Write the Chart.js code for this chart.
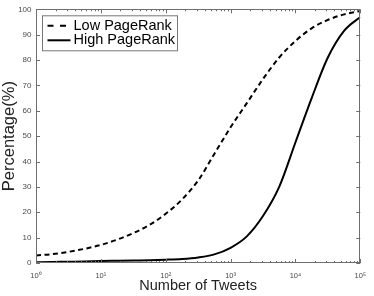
<!DOCTYPE html>
<html>
<head>
<meta charset="utf-8">
<script src="https://cdn.jsdelivr.net/npm/chart.js@4/dist/chart.umd.min.js"></script>
<style>
  html, body { margin: 0; padding: 0; background: #fff; }
  canvas { display: block; }
</style>
</head>
<body>
<canvas id="myChart" width="374" height="296"></canvas>
<script>
// number of tweets (x, log scale)
var tweets = [1, 1.78, 3.16, 5.62, 10, 17.8, 31.6, 56.2, 100, 178, 316, 562,
  1000, 1780, 3160, 5620, 10000, 17800, 31600, 56200, 100000];
// percentage of users (y)
var lowPageRank = [3.0, 3.5, 4.4, 5.6, 7.1, 9.2, 11.8, 15.0, 19.4, 25.0, 32.5, 43.0,
  53.5, 63.0, 72.5, 81.0, 87.5, 92.5, 95.8, 98.0, 99.3];
var highPageRank = [0.3, 0.4, 0.5, 0.6, 0.8, 0.9, 1.0, 1.1, 1.3, 1.6, 2.2, 3.4,
  6.0, 10.5, 18.5, 30.0, 47.5, 65.0, 81.0, 91.5, 97.0];
var xMajorTicks = [1, 10, 100, 1000, 10000, 100000];
var xTickLabels = ["10\u2070", "10\u00b9", "10\u00b2", "10\u00b3", "10\u2074", "10\u2075"];
var seriesNames = ["Low PageRank", "High PageRank"];

var axisColor = "#6e6e6e";
var labelColor = "#4a4a4a";
var fontFamily = "'Liberation Sans', Arial, Helvetica, sans-serif";

function toPoints(values) {
  return values.map(function (v, i) { return { x: tweets[i], y: v }; });
}

// box round the plot + inward tick marks on all four sides
var boxPlugin = {
  id: "box",
  afterDatasetsDraw: function (chart) {
    var ctx = chart.ctx;
    var a = chart.chartArea;
    var xs = chart.scales.x, ys = chart.scales.y;
    ctx.save();
    ctx.strokeStyle = axisColor;
    ctx.lineWidth = 1;
    ctx.beginPath();
    xs.ticks.forEach(function (t) {
      var px = Math.round(xs.getPixelForValue(t.value)) + 0.5;
      var len = xMajorTicks.indexOf(t.value) >= 0 ? 4 : 2;
      ctx.moveTo(px, a.bottom);
      ctx.lineTo(px, a.bottom - len);
      ctx.moveTo(px, a.top);
      ctx.lineTo(px, a.top + len);
    });
    ys.ticks.forEach(function (t) {
      var py = Math.round(ys.getPixelForValue(t.value)) + 0.5;
      ctx.moveTo(a.left, py);
      ctx.lineTo(a.left + 4, py);
      ctx.moveTo(a.right, py);
      ctx.lineTo(a.right - 4, py);
    });
    ctx.stroke();
    ctx.strokeRect(Math.round(a.left) + 0.5, Math.round(a.top) + 0.5,
      Math.round(a.right - a.left) - 1, Math.round(a.bottom - a.top) - 1);
    ctx.restore();
  },
  afterDraw: function (chart) {
    // legend inside the upper left corner
    var ctx = chart.ctx;
    var a = chart.chartArea;
    var bx = a.left + 6.5, by = a.top + 6.5;
    ctx.save();
    ctx.fillStyle = "#fff";
    ctx.fillRect(bx, by, 135, 35);
    ctx.strokeStyle = "#777";
    ctx.lineWidth = 1;
    ctx.strokeRect(bx, by, 135, 35);
    ctx.font = "14.5px " + fontFamily;
    ctx.textBaseline = "middle";
    ctx.textAlign = "left";
    chart.data.datasets.forEach(function (ds, i) {
      var ly = by + 10 + i * 14.5;
      ctx.strokeStyle = "#000";
      ctx.lineWidth = 2;
      ctx.setLineDash(ds.borderDash.length ? [6, 6.5] : []);
      ctx.beginPath();
      ctx.moveTo(bx + 5, ly);
      ctx.lineTo(bx + 28, ly);
      ctx.stroke();
      ctx.setLineDash([]);
      ctx.fillStyle = "#000";
      ctx.fillText(ds.label, bx + 31, ly);
    });
    ctx.restore();
  }
};

var ctx = document.getElementById("myChart").getContext("2d");
var chart = new Chart(ctx, {
  type: "line",
  data: {
    datasets: [
      {
        label: seriesNames[0],
        data: toPoints(lowPageRank),
        borderColor: "#000",
        borderWidth: 2,
        borderDash: [5, 3.5],
        pointRadius: 0,
        cubicInterpolationMode: "monotone",
        fill: false
      },
      {
        label: seriesNames[1],
        data: toPoints(highPageRank),
        borderColor: "#000",
        borderWidth: 2,
        borderDash: [],
        pointRadius: 0,
        cubicInterpolationMode: "monotone",
        fill: false
      }
    ]
  },
  options: {
    responsive: false,
    animation: false,
    devicePixelRatio: 1,
    layout: { autoPadding: false, padding: { left: 0, right: 8, top: 5, bottom: 0 } },
    plugins: { legend: { display: false }, tooltip: { enabled: false } },
    scales: {
      x: {
        type: "logarithmic",
        min: 1,
        max: 100000,
        afterBuildTicks: function (scale) {
          var list = [];
          xMajorTicks.forEach(function (m, i) {
            list.push({ value: m });
            if (i < xMajorTicks.length - 1) {
              for (var k = 2; k <= 9; k++) list.push({ value: m * k });
            }
          });
          scale.ticks = list;
        },
        afterFit: function (scale) { scale.height = 33; },
        grid: { display: false, drawTicks: false },
        border: { display: false },
        ticks: {
          autoSkip: false,
          maxRotation: 0,
          padding: 8,
          color: labelColor,
          font: { family: fontFamily, size: 7.5 },
          callback: function (value) {
            var i = xMajorTicks.indexOf(value);
            return i >= 0 ? xTickLabels[i] : "";
          }
        },
        title: {
          display: true,
          text: "Number of Tweets",
          color: "#222",
          font: { family: fontFamily, size: 14.5, lineHeight: 1 },
          padding: { top: 0, bottom: 3 }
        }
      },
      y: {
        min: 0,
        max: 100,
        afterFit: function (scale) { scale.width = 36; },
        grid: { display: false, drawTicks: false },
        border: { display: false },
        ticks: {
          stepSize: 10,
          padding: 4.5,
          color: labelColor,
          font: { family: fontFamily, size: 8 }
        },
        title: {
          display: true,
          text: "Percentage(%)",
          color: "#222",
          font: { family: fontFamily, size: 16.5, lineHeight: 1 },
          padding: { top: 1, bottom: 0 }
        }
      }
    }
  },
  plugins: [boxPlugin]
});
</script>
</body>
</html>
